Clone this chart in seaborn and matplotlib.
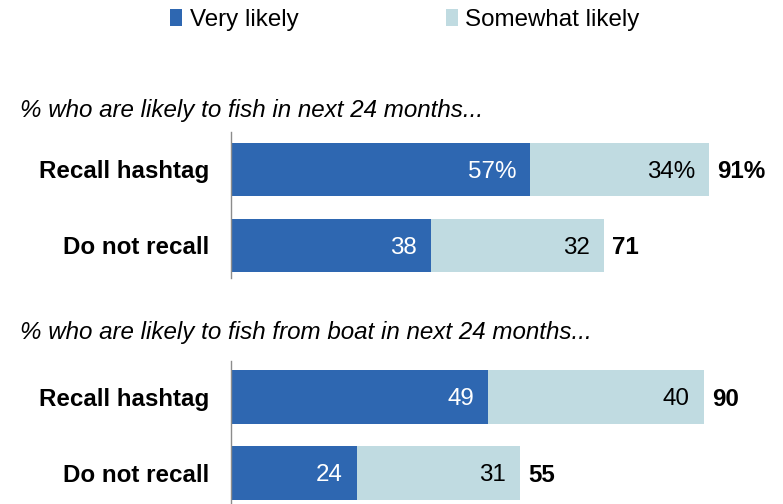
import matplotlib
matplotlib.use("Agg")
import matplotlib.pyplot as plt
from matplotlib.patches import Patch
import seaborn as sns
import pandas as pd

# Survey results (percent of respondents)
segments = ["Recall hashtag", "Do not recall"]
series_names = ["Very likely", "Somewhat likely"]

fish_title = "% who are likely to fish in next 24 months..."
fish_very = [57, 38]
fish_somewhat = [34, 32]
fish_total = [91, 71]

boat_title = "% who are likely to fish from boat in next 24 months..."
boat_very = [49, 24]
boat_somewhat = [40, 31]
boat_total = [90, 55]

DARK = "#2E67B1"
LIGHT = "#C0DBE1"
FONT = "Liberation Sans"
FS = 17.4

sns.set_theme(style="white")
plt.rcParams["font.family"] = [FONT, "DejaVu Sans"]
plt.rcParams["text.color"] = "black"

W, H = 783, 504
fig = plt.figure(figsize=(W / 100, H / 100), dpi=100)


def px_axes(left, top, width, height):
    return fig.add_axes([left / W, 1 - (top + height) / H, width / W, height / H])


def draw_group(ax, very, somewhat, total, pct, ylim):
    df = pd.DataFrame({"segment": segments, "very": very,
                       "somewhat": somewhat, "total": total})
    # full bar (very + somewhat) underneath, very-likely part on top
    sns.barplot(data=df, x="total", y="segment", color=LIGHT, saturation=1,
                width=0.7, linewidth=0, ax=ax, orient="h")
    sns.barplot(data=df, x="very", y="segment", color=DARK, saturation=1,
                width=0.7, linewidth=0, ax=ax, orient="h")
    suffix = "%" if pct else ""
    for i in range(len(segments)):
        s = suffix if i == 0 else ""
        ax.annotate(f"{very[i]}{s}", xy=(very[i], i), xytext=(-10, -1.5),
                    textcoords="offset points", ha="right", va="center",
                    color="white", fontsize=FS)
        ax.annotate(f"{somewhat[i]}{s}", xy=(total[i], i), xytext=(-10, -1.5),
                    textcoords="offset points", ha="right", va="center",
                    color="black", fontsize=FS)
        ax.annotate(f"{total[i]}{s}", xy=(total[i], i), xytext=(6, -1.5),
                    textcoords="offset points", ha="left", va="center",
                    color="black", fontsize=FS, fontweight="bold")
    ax.set_xlim(0, 100)
    ax.set_ylim(*ylim)
    ax.set_xlabel("")
    ax.set_ylabel("")
    ax.set_xticks([])
    ax.tick_params(axis="y", length=0, pad=15.5)
    for lab in ax.get_yticklabels():
        lab.set_fontsize(FS)
        lab.set_fontweight("bold")
        lab.set_color("black")
    for side in ["top", "right", "bottom"]:
        ax.spines[side].set_visible(False)
    ax.spines["left"].set_color("#8C8C8C")
    ax.spines["left"].set_linewidth(1.0)
    ax.patch.set_alpha(0)


ax1 = px_axes(231, 132, 525, 146)
draw_group(ax1, fish_very, fish_somewhat, fish_total, True, (1.428, -0.493))

ax2 = px_axes(231, 361, 525, 143)
draw_group(ax2, boat_very, boat_somewhat, boat_total, False, (1.408, -0.474))

fig.text(20 / W, 1 - 110 / H, fish_title, fontsize=FS, style="italic",
         ha="left", va="center", color="black")
fig.text(20 / W, 1 - 333 / H, boat_title, fontsize=FS, style="italic",
         ha="left", va="center", color="black")

handles = [Patch(facecolor=DARK, edgecolor="none"),
           Patch(facecolor=LIGHT, edgecolor="none")]
leg = fig.legend(handles, series_names, loc="center",
                 bbox_to_anchor=(405 / W, 1 - 20 / H), ncol=2, frameon=False,
                 fontsize=FS, handlelength=0.5, handleheight=0.65,
                 handletextpad=0.3, columnspacing=6.1, borderpad=0)
for t in leg.get_texts():
    t.set_color("black")

fig.savefig("out.png", dpi=100)
